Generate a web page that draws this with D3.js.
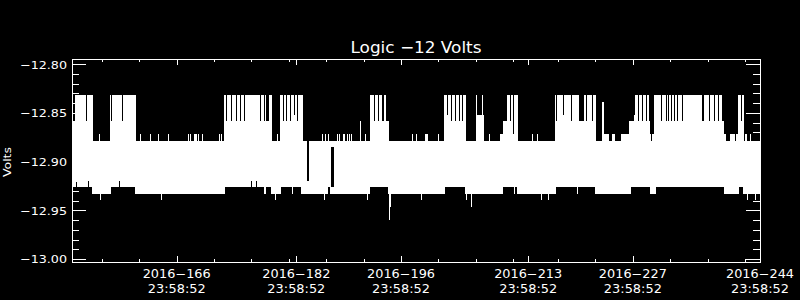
<!DOCTYPE html>
<html>
<head>
<meta charset="utf-8">
<script src="https://cdn.jsdelivr.net/npm/d3@7"></script>
<style>
  body { margin: 0; background: #000; }
  text { font-family: "DejaVu Sans", sans-serif; fill: #fff; }
</style>
</head>
<body>
<svg id="chart" width="800" height="300"></svg>
<script>
// values; days are 2016 day-of-year with fraction of day
const startDay = 152 + 86332 / 86400;   // 2016-152 23:58:52
const endDay = 244 + 86332 / 86400;     // 2016-244 23:58:52

// upper envelope (max volts) as a step series
const hiDay = [152.99, 153.36, 155.77, 158.04, 161.52, 173.28, 179.70, 180.77, 183.89, 192.90,
  195.04, 195.44, 202.70, 205.65, 206.98, 208.05, 210.19, 210.59, 211.13, 212.60,
  217.55, 220.80, 221.43, 223.03, 223.87, 224.14, 224.77, 225.26, 225.57, 226.47,
  227.44, 228.11, 230.25, 230.79, 237.25, 237.67, 239.88, 240.15, 240.41, 241.04,
  242.02, 242.83];
const hiVal = [-12.8582, -12.8315, -12.8788, -12.8315, -12.8788, -12.8315, -12.8788, -12.8315, -12.8788, -12.8315,
  -12.8582, -12.8788, -12.8315, -12.8788, -12.8521, -12.8788, -12.8716, -12.8582, -12.8315, -12.8788,
  -12.8315, -12.8582, -12.8315, -12.8788, -12.8384, -12.8716, -12.8788, -12.8716, -12.8788, -12.8716,
  -12.8582, -12.8315, -12.8716, -12.8315, -12.8582, -12.8315, -12.8582, -12.8716, -12.8788, -12.8716,
  -12.8315, -12.8788];

// lower envelope (min volts) as a step series
const loDay = [152.99, 155.63, 158.18, 161.38, 173.42, 178.73, 179.00, 179.57, 180.91, 183.68,
  187.19, 187.46, 192.90, 195.22, 202.84, 205.51, 210.59, 212.47, 217.68, 222.90,
  227.71, 230.25, 231.05, 240.15, 242.15, 242.69];
const loVal = [-12.9257, -12.9329, -12.9257, -12.9329, -12.9257, -12.9329, -12.9257, -12.9329, -12.9257, -12.9329,
  -12.9257, -12.9329, -12.9257, -12.9329, -12.9257, -12.9329, -12.9257, -12.9329, -12.9257, -12.9329,
  -12.9257, -12.9329, -12.9257, -12.9329, -12.9257, -12.9329];

// short drops of the max inside the high stretches
const dipDay = [154.81, 158.22, 159.71, 173.55, 174.22, 174.89, 175.43, 176.03, 178.14, 178.67,
  178.96, 179.10, 179.24, 181.17, 181.64, 182.11, 182.65, 183.11, 193.41, 193.92,
  194.48, 194.61, 203.15, 203.71, 204.26, 204.71, 205.11, 211.62, 212.00, 217.72,
  218.68, 219.73, 221.69, 222.49, 228.18, 228.74, 229.18, 229.76, 230.12, 230.43,
  231.70, 232.45, 232.69, 233.05, 233.45, 233.85, 234.52, 238.21, 238.88, 239.34,
  241.62, 242.42];
const dipVal = [-12.8582, -12.8582, -12.8582, -12.8582, -12.8582, -12.8582, -12.8582, -12.8582, -12.8582, -12.8582,
  -12.8582, -12.8582, -12.8582, -12.8582, -12.8582, -12.8582, -12.8521, -12.8582, -12.8582, -12.8582,
  -12.8582, -12.8582, -12.8521, -12.8582, -12.8582, -12.8582, -12.8582, -12.8582, -12.8716, -12.8582,
  -12.8521, -12.8582, -12.8582, -12.8582, -12.8521, -12.8582, -12.8582, -12.8582, -12.8582, -12.8788,
  -12.8582, -12.8582, -12.8582, -12.8582, -12.8582, -12.8582, -12.8582, -12.8582, -12.8582, -12.8582,
  -12.8788, -12.8582];

// single high samples
const upDay = [156.57, 162.05, 163.39, 164.46, 165.80, 168.51, 168.74, 169.34, 169.47, 169.61,
  169.85, 170.34, 172.66, 172.88, 180.41, 186.46, 186.83, 187.22, 188.42, 188.70,
  189.27, 189.40, 189.73, 190.04, 190.33, 191.47, 192.23, 198.42, 198.96, 200.23,
  200.37, 200.50, 201.94, 207.05, 207.88, 208.76, 214.51, 215.23, 237.57, 242.96,
  243.09, 243.62];
const upVal = [-12.8716, -12.8716, -12.8716, -12.8716, -12.8716, -12.8716, -12.8716, -12.8716, -12.8716, -12.8716,
  -12.8716, -12.8716, -12.8716, -12.8716, -12.8716, -12.8716, -12.8716, -12.8716, -12.8716, -12.8716,
  -12.8716, -12.8716, -12.8716, -12.8716, -12.8716, -12.8582, -12.8716, -12.8716, -12.8716, -12.8716,
  -12.8716, -12.8716, -12.8716, -12.8315, -12.8315, -12.8716, -12.8716, -12.8716, -12.8315, -12.8716,
  -12.8716, -12.8716];

// single low samples
const downDay = [156.77, 164.86, 180.17, 182.47, 186.72, 192.41, 195.26, 195.42, 195.55, 199.63,
  205.69, 206.35, 212.07, 215.68, 216.61, 220.56, 243.26, 244.33];
const downVal = [-12.9390, -12.9390, -12.9390, -12.9329, -12.9390, -12.9390, -12.9329, -12.9596, -12.9462, -12.9390,
  -12.9390, -12.9462, -12.9329, -12.9390, -12.9390, -12.9329, -12.9390, -12.9390];

// short rises of the min
const notchDay = [153.47, 153.60, 155.10, 159.28, 176.94, 177.63];
const notchVal = [-12.9195, -12.9195, -12.9195, -12.9195, -12.9195, -12.9195];

// data holes inside the band
const gapStart = [184.43, 187.66];
const gapEnd = [184.65, 187.99];
const gapTop = [-12.8788, -12.8850];
const gapBottom = [-12.9195, -12.9257];

// ticks
const yMajor = [-13.00, -12.95, -12.90, -12.85, -12.80];
const yMinor = d3.range(-13.00, -12.795, 0.01);
const xMajorDay = [166, 182, 196, 213, 227, 244];
const xMinorDay = [157, 162, 167, 172, 177, 182, 187, 192, 197, 202, 207, 212, 218, 223, 228, 233, 238, 243];
const xTimeLabel = "23:58:52";

const toDate = d => new Date(Date.UTC(2016, 0, 1) + (d - 1) * 864e5);

const svg = d3.select("#chart");
svg.append("rect").attr("width", 800).attr("height", 300).attr("fill", "#000");

const x = d3.scaleUtc().domain([toDate(startDay), toDate(endDay)]).range([72, 760]);
const y = d3.scaleLinear().domain([-13.0041, -12.7946]).range([263, 59]);
const mid = -12.90;
const xr = d => Math.round(x(toDate(d)));

function steps(days, vals) {
  return days.map((d, i) => ({ d0: d, d1: i + 1 < days.length ? days[i + 1] : endDay, v: vals[i] }));
}

const plot = svg.append("g").attr("shape-rendering", "crispEdges");

plot.selectAll(".hi").data(steps(hiDay, hiVal)).enter().append("rect")
  .attr("x", d => xr(d.d0)).attr("width", d => Math.max(1, xr(d.d1) - xr(d.d0)))
  .attr("y", d => Math.round(y(d.v))).attr("height", d => Math.round(y(mid)) - Math.round(y(d.v)) + 1)
  .attr("fill", "#fff");

plot.selectAll(".lo").data(steps(loDay, loVal)).enter().append("rect")
  .attr("x", d => xr(d.d0)).attr("width", d => Math.max(1, xr(d.d1) - xr(d.d0)))
  .attr("y", Math.round(y(mid))).attr("height", d => Math.round(y(d.v)) - Math.round(y(mid)))
  .attr("fill", "#fff");

plot.selectAll(".dip").data(dipDay).enter().append("rect")
  .attr("x", d => xr(d)).attr("width", 1)
  .attr("y", 60).attr("height", (d, i) => Math.round(y(dipVal[i])) - 60)
  .attr("fill", "#000");

plot.selectAll(".notch").data(notchDay).enter().append("rect")
  .attr("x", d => xr(d)).attr("width", 1)
  .attr("y", (d, i) => Math.round(y(notchVal[i]))).attr("height", (d, i) => 262 - Math.round(y(notchVal[i])))
  .attr("fill", "#000");

plot.selectAll(".gap").data(gapStart).enter().append("rect")
  .attr("x", d => xr(d)).attr("width", (d, i) => xr(gapEnd[i]) - xr(d))
  .attr("y", (d, i) => Math.round(y(gapTop[i]))).attr("height", (d, i) => Math.round(y(gapBottom[i])) - Math.round(y(gapTop[i])))
  .attr("fill", "#000");

plot.selectAll(".up").data(upDay).enter().append("rect")
  .attr("x", d => xr(d)).attr("width", 1)
  .attr("y", (d, i) => Math.round(y(upVal[i]))).attr("height", (d, i) => Math.round(y(mid)) - Math.round(y(upVal[i])))
  .attr("fill", "#fff");

plot.selectAll(".down").data(downDay).enter().append("rect")
  .attr("x", d => xr(d)).attr("width", 1)
  .attr("y", Math.round(y(mid))).attr("height", (d, i) => Math.round(y(downVal[i])) - Math.round(y(mid)))
  .attr("fill", "#fff");

// frame
svg.append("rect").attr("x", 72.5).attr("y", 59.5).attr("width", 688).attr("height", 203)
  .attr("fill", "none").attr("stroke", "#fff").attr("shape-rendering", "crispEdges");

function styleAxis(g) {
  g.select(".domain").remove();
  g.selectAll("line").attr("stroke", "#fff").attr("shape-rendering", "crispEdges");
  g.attr("font-family", null).attr("font-size", null);
}

// y axes
svg.append("g").attr("transform", "translate(72,0)")
  .call(d3.axisLeft(y).tickValues(yMinor).tickSize(-7).tickFormat(""))
  .call(styleAxis);
const yLeft = svg.append("g").attr("transform", "translate(72,0)")
  .call(d3.axisLeft(y).tickValues(yMajor).tickSize(-14).tickPadding(5)
    .tickFormat(d => d3.format(".2f")(d).replace("-", "\u2212")))
  .call(styleAxis);
yLeft.selectAll("text").attr("dy", "0.36em").attr("font-size", 11)
  .attr("textLength", 47).attr("lengthAdjust", "spacingAndGlyphs");
svg.append("g").attr("transform", "translate(760,0)")
  .call(d3.axisRight(y).tickValues(yMinor).tickSize(-7).tickFormat(""))
  .call(styleAxis);
svg.append("g").attr("transform", "translate(760,0)")
  .call(d3.axisRight(y).tickValues(yMajor).tickSize(-14).tickFormat(""))
  .call(styleAxis);

// x axes
const xMajor = xMajorDay.map(d => toDate(d + 86332 / 86400));
const xMinor = xMinorDay.map(toDate);
svg.append("g").attr("transform", "translate(0,263)")
  .call(d3.axisBottom(x).tickValues(xMinor).tickSize(-4).tickFormat(""))
  .call(styleAxis);
svg.append("g").attr("transform", "translate(0,263)")
  .call(d3.axisBottom(x).tickValues(xMajor).tickSize(-7).tickFormat(""))
  .call(styleAxis);
svg.append("g").attr("transform", "translate(0,59)")
  .call(d3.axisTop(x).tickValues(xMinor).tickSize(-3).tickFormat(""))
  .call(styleAxis);
svg.append("g").attr("transform", "translate(0,59)")
  .call(d3.axisTop(x).tickValues(xMajor).tickSize(-6).tickFormat(""))
  .call(styleAxis);

const xLab = svg.append("g").selectAll("g").data(xMajorDay).enter().append("g")
  .attr("transform", (d, i) => `translate(${x(xMajor[i])},0)`);
xLab.append("text").attr("y", 278).attr("text-anchor", "middle").attr("font-size", 11.5)
  .attr("textLength", 68).attr("lengthAdjust", "spacingAndGlyphs")
  .text(d => "2016\u2212" + d);
xLab.append("text").attr("y", 293).attr("text-anchor", "middle").attr("font-size", 11.5)
  .attr("textLength", 58).attr("lengthAdjust", "spacingAndGlyphs")
  .text(xTimeLabel);

// title and y label
svg.append("text").attr("x", 416).attr("y", 53).attr("text-anchor", "middle")
  .attr("font-size", 16).attr("textLength", 131).attr("lengthAdjust", "spacingAndGlyphs")
  .text("Logic \u221212 Volts");
svg.append("text").attr("transform", "translate(11,162) rotate(-90)").attr("text-anchor", "middle")
  .attr("font-size", 11).attr("textLength", 30).attr("lengthAdjust", "spacingAndGlyphs")
  .text("Volts");
</script>
</body>
</html>
